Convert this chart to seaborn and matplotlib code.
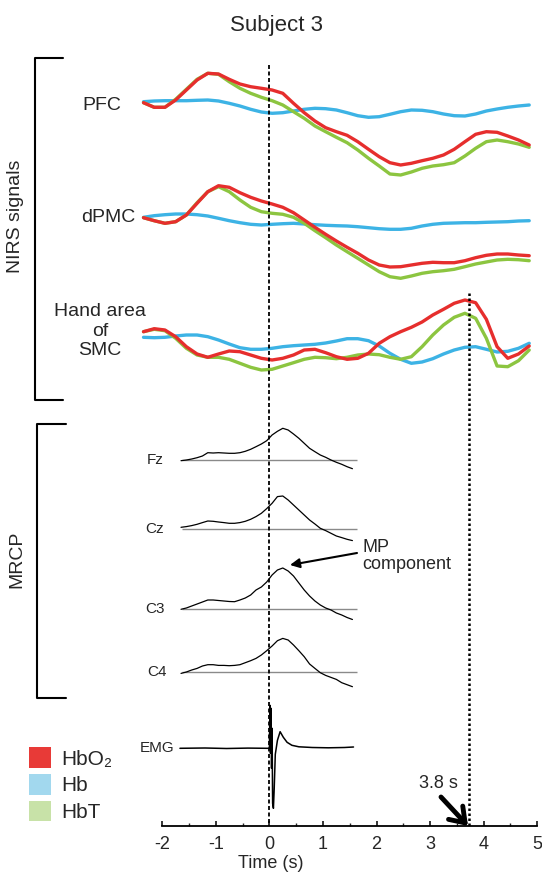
import numpy as np
import pandas as pd
import matplotlib.pyplot as plt
from matplotlib.patches import Patch
import seaborn as sns

# ---- NIRS traces: deflection (up = positive, px) ----
nirs_time = np.linspace(-2.35, 4.85, 37)

pfc_hbo2 = [-0.7, -5.3, -5.3, 2, 12, 22, 28.7, 28, 22.7, 18, 15.3, 13.7, 12, 8.7, -1.3, -10.7,
            -19, -25.7, -29.7, -33.3, -39.7, -47.3, -54.7, -60.7, -63, -61.3, -58.7, -56.3,
            -53, -47.3, -39.7, -32.3, -29.7, -30.3, -34, -38, -43]
pfc_hb = [0.3, 1, 1.3, 1.3, 1.3, 1.7, 2, 1, -1.3, -4, -7.3, -10, -11.3, -10.7, -9, -7.3, -6.3,
          -6.7, -8, -10.7, -13.7, -15.3, -14.7, -12.3, -9.7, -8, -8.3, -9.7, -12, -13.7, -14,
          -12, -9, -7, -5.3, -4, -3]
pfc_hbt = [-0.7, -5.3, -5.3, 2.7, 12.7, 22.7, 28.7, 27.7, 20.3, 13.7, 8.7, 4.7, 1.3, -3, -9.7,
           -16.3, -24, -29.7, -35.3, -40.7, -48, -56.3, -64, -72, -73, -70, -66.3, -64, -62.7,
           -60.7, -54, -46.3, -39.7, -38, -39.7, -42, -45.3]

dpmc_hbo2 = [-0.7, -3.7, -6.3, -4.7, 2, 13.7, 25.3, 31.3, 29.7, 24.3, 19.7, 16, 13, 9.7, 4.3, -3,
             -10.3, -17.3, -24, -30.3, -36.3, -43, -48, -50, -49.7, -48, -46.3, -45.3, -45.7,
             -45.7, -43.7, -40.7, -38.3, -37, -37, -38, -38.7]
dpmc_hb = [-0.3, 1.3, 2.3, 3, 3, 2.3, 1, -1.3, -3.7, -5.7, -7.3, -8, -7.3, -6.7, -6.3, -7, -7.7,
           -8.3, -8.7, -9, -9.7, -10.7, -11.7, -12.3, -12.3, -11.3, -9, -7.3, -6.3, -6, -5.7,
           -5.7, -5.3, -5, -4.7, -4, -3.7]
dpmc_hbt = [-0.7, -3.7, -6.3, -4.7, 2, 14.3, 25.3, 30.3, 25.3, 17, 9.7, 5.3, 3.7, 2.7, -0.3, -6.3,
            -13.7, -20.7, -28, -34.7, -41.3, -48, -54.7, -59.7, -61.3, -59, -56.3, -54.7, -53.7,
            -52.3, -49.7, -47, -45, -43, -42.3, -42.7, -43.7]

smc_hbo2 = [1.3, 4.3, 3, -3.7, -13.7, -21, -24.3, -21, -18, -18.7, -22, -25.3, -27, -25.3, -22,
            -17, -16.3, -19.7, -23.7, -26.3, -25.3, -20.3, -10.3, -3.7, 1.3, 5.7, 11, 18, 23.7,
            29.7, 33, 30.3, 13.7, -13.7, -25.3, -21, -13]
smc_hb = [-4.3, -4.7, -4.3, -3, -2, -2, -3.7, -7, -11, -14.7, -16.3, -16.3, -15.3, -13.7, -12.7,
          -12, -11.3, -10, -8, -5.7, -5.7, -7.7, -13, -20.3, -26.3, -30.3, -29, -25.7, -21, -17,
          -14.3, -13.7, -16.3, -19, -18.3, -15.3, -10.3]
smc_hbt = [1.3, 3.7, 2.3, -5.3, -15.3, -22, -24.3, -24.3, -26.3, -30.3, -34.3, -37, -36.3, -33,
           -29.7, -26.3, -24.3, -24.7, -25.7, -24.3, -22, -21, -21.7, -24.3, -26.3, -23.7, -13.7,
           -2, 8, 15.7, 19.7, 14.7, -5.3, -33, -33.7, -27.7, -17]

# ---- MRCP traces ----
mrcp_time = np.linspace(-1.65, 1.55, 33)
fz = [-0.7, 0, 1, 2.3, 4, 7.3, 7, 7.3, 7, 6.7, 6.7, 7.3, 8.7, 10.7, 13.3, 16, 19.3, 25, 28.7,
      31.7, 30, 26, 21.7, 16.7, 11.7, 8.3, 5, 2.7, 0, -2.3, -4.3, -6.7, -8.7]
cz = [2, 2.7, 3.7, 5, 6.7, 8.3, 8, 7.3, 6.7, 6, 6, 6.7, 8, 10, 12.7, 16, 20.7, 26, 32.7, 33.3,
      29.3, 24.3, 19.3, 14.3, 9.3, 5.3, 1, -1.3, -4, -6.7, -8.3, -10, -11.3]
c3 = [-0.3, 1, 3, 5, 7, 9, 9, 8.5, 8, 7.5, 7.3, 9, 11, 14, 19, 22, 27, 34, 39, 41, 38, 33, 26,
      19, 13, 8, 4, 1, -1, -4, -6, -8.5, -10.5]
c4 = [-1.7, -0.3, 1.7, 3.3, 5.7, 7, 7, 6.3, 6.3, 6, 6.3, 7, 9, 11, 13.3, 16.7, 21, 25.7, 31,
      33.3, 31.7, 26.7, 21, 15, 7.7, 3.3, -1, -3.7, -5.7, -7.7, -11, -13, -15]

emg_time = [-1.67, -1.2, -0.8, -0.4, -0.05, 0.0, 0.01, 0.02, 0.03, 0.04, 0.05, 0.06, 0.075,
            0.09, 0.11, 0.15, 0.2, 0.26, 0.33, 0.42, 0.55, 0.8, 1.1, 1.4, 1.57]
emg = [0, 0.3, -0.2, 0.2, 0, 0, 43, -5, 40, -20, 20, -55, -60, -40, -6, 8, 16.6, 11, 6, 3, 1.5,
       0.8, 0.5, 0.8, 1.3]

signals = ["Hb", "HbT", "HbO₂"]
line_colors = {"HbO₂": "#e62e2d", "Hb": "#3db3e5", "HbT": "#8cc540"}
patch_colors = {"HbO₂": "#e83a37", "Hb": "#a2d8ee", "HbT": "#c8e2a8"}

# ---- layout (figure is laid out in pixel rows; x is time) ----
X0, PPS = 269.4, 53.57          # pixel of t=0, pixels per second


def px(x):
    return (x - X0) / PPS


nirs_rows = {"PFC": 102, "dPMC": 217, "SMC": 333}
mrcp_rows = {"Fz": 460, "Cz": 529.3, "C3": 609, "C4": 671.7, "EMG": 748.3}

sns.set_style("white")
plt.rcParams["font.family"] = ["Liberation Sans", "DejaVu Sans"]
plt.rcParams["axes.unicode_minus"] = False

fig = plt.figure(figsize=(5.42, 8.73), dpi=100)
ax = fig.add_axes([0, 47 / 873, 1, 826 / 873])

nirs = {"PFC": (pfc_hbo2, pfc_hb, pfc_hbt),
        "dPMC": (dpmc_hbo2, dpmc_hb, dpmc_hbt),
        "SMC": (smc_hbo2, smc_hb, smc_hbt)}

for region, (hbo2, hb, hbt) in nirs.items():
    d = pd.DataFrame({
        "time": np.tile(nirs_time, 3),
        "value": np.concatenate([hb, hbt, hbo2]),
        "signal": np.repeat(signals, len(nirs_time)),
    })
    d["y"] = nirs_rows[region] - d["value"]
    sns.lineplot(data=d, x="time", y="y", hue="signal", hue_order=signals,
                 palette=line_colors, lw=2.4, estimator=None, sort=False,
                 legend=False, ax=ax)

mrcp = {"Fz": fz, "Cz": cz, "C3": c3, "C4": c4}
for ch, vals in mrcp.items():
    base = mrcp_rows[ch]
    ax.hlines(base, -1.64, 1.63, colors="#8a8a8a", lw=1.0)
    d = pd.DataFrame({"time": mrcp_time, "y": base - np.array(vals)})
    sns.lineplot(data=d, x="time", y="y", color="black", lw=0.9,
                 estimator=None, sort=False, ax=ax)

d = pd.DataFrame({"time": emg_time, "y": mrcp_rows["EMG"] - np.array(emg)})
sns.lineplot(data=d, x="time", y="y", color="black", lw=1.1,
             estimator=None, sort=False, ax=ax)

# event markers
ax.vlines(0, 65, 826, colors="black", linestyles=(0, (2.2, 1.4)), lw=1.3)
ax.vlines(3.73, 293, 826, colors="black", linestyles=(0, (1, 1)), lw=1.8)

# brackets and row labels
ax.plot([px(63), px(35), px(35), px(63)], [58, 58, 400, 400], color="black", lw=1.5)
ax.plot([px(66), px(37), px(37), px(66)], [424, 424, 698, 698], color="black", lw=1.5)
ax.text(px(16), 216, "NIRS signals", rotation=90, ha="center", va="center", fontsize=14)
ax.text(px(17), 559, "MRCP", rotation=90, ha="center", va="center", fontsize=14)
ax.text(px(102), 105, "PFC", ha="center", va="center", fontsize=14)
ax.text(px(108), 217, "dPMC", ha="center", va="center", fontsize=14)
ax.text(px(100), 331, "Hand area\nof\nSMC", ha="center", va="center", fontsize=14,
        linespacing=1.2)
for ch, xp in zip(["Fz", "Cz", "C3", "C4", "EMG"], [155, 155, 155, 157, 157]):
    ax.text(px(xp), mrcp_rows[ch], ch, ha="center", va="center", fontsize=11)

ax.annotate("", xy=(px(290), 565), xytext=(px(357), 553),
            arrowprops=dict(arrowstyle="-|>", color="black", lw=1.5, mutation_scale=14,
                            shrinkA=0, shrinkB=0))
ax.text(px(362), 556, "MP\ncomponent", ha="left", va="center", fontsize=13, linespacing=1.0)

ax.annotate("", xy=(px(468), 826), xytext=(px(441), 797),
            arrowprops=dict(arrowstyle="->, head_length=0.5, head_width=0.35", color="black",
                            lw=3.5, mutation_scale=20, shrinkA=0, shrinkB=0))
ax.text(px(438), 783, "3.8 s", ha="center", va="center", fontsize=13)

# axes
ax.set_xlim(px(0), px(542))
ax.set_ylim(826, 0)
for s in ["top", "left", "right"]:
    ax.spines[s].set_visible(False)
ax.spines["bottom"].set_bounds(-2, 5)
ax.spines["bottom"].set_linewidth(1.3)
ax.spines["bottom"].set_color("black")
ax.set_xticks(range(-2, 6))
ax.set_xticks(np.arange(-1.5, 5, 1), minor=True)
ax.tick_params(axis="x", which="major", direction="in", length=3.5, width=1.3,
               labelsize=13, pad=7, bottom=True)
ax.tick_params(axis="x", which="minor", direction="in", length=2, width=1.0, bottom=True)
ax.set_yticks([])
ax.set_ylabel("")
ax.set_xlabel("Time (s)", fontsize=13, labelpad=1.5)

handles = [Patch(facecolor=patch_colors[s], edgecolor="none", label=s)
           for s in ["HbO₂", "Hb", "HbT"]]
ax.legend(handles=handles, loc="upper left", bbox_to_anchor=(29.4 / 542, 1 - 747.3 / 873),
          bbox_transform=fig.transFigure, frameon=False, fontsize=15, handlelength=1.06,
          handleheight=1.13, handletextpad=0.47, labelspacing=0.27, borderpad=0,
          borderaxespad=0)

fig.text(276 / 542, 1 - 25 / 873, "Subject 3", ha="center", va="center", fontsize=16)

fig.savefig("out.png", dpi=100)
